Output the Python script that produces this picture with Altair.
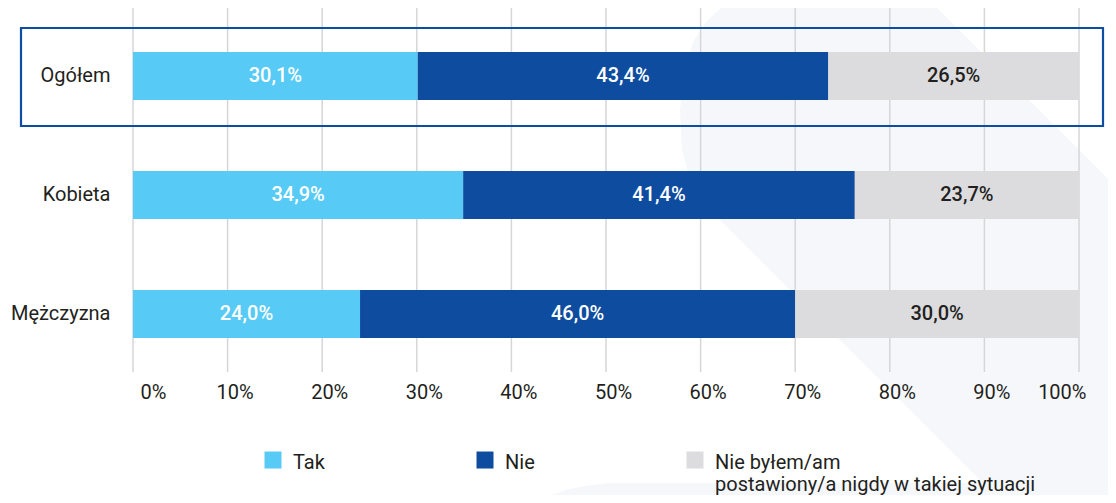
import altair as alt
import pandas as pd

categories = ["Ogółem", "Kobieta", "Mężczyzna"]
series = ["Tak", "Nie", "Nie byłem/am postawiony/a nigdy w takiej sytuacji"]
tak = [30.1, 34.9, 24.0]
nie = [43.4, 41.4, 46.0]
nigdy = [26.5, 23.7, 30.0]
tick_values = [0, 10, 20, 30, 40, 50, 60, 70, 80, 90, 100]

colors = ["#57cbf5", "#0e4c9f", "#dcdcde"]
text_colors = ["#ffffff", "#ffffff", "#231f20"]

rows = []
for i, c in enumerate(categories):
    for j, (s, vals) in enumerate(zip(series, [tak, nie, nigdy])):
        rows.append({"cat": c, "series": s, "v": vals[i], "o": j, "tc": text_colors[j]})
df = pd.DataFrame(rows)

# faint decorative background shapes (pixel outlines relative to plot origin)
band_y = [-8, 12, 32, 62, 102, 142, 172, 179, 197, 212, 352, 495]
band_left = [597, 575, 561, 551, 547, 549, 557, 560, 572, 587, 727, 870]
band_right = [796, 816, 836, 866, 906, 946, 976, 983, 991, 991, 991, 991]
blob_y = [475, 478, 482, 487, 495]
blob_left = [477, 452, 432, 419, 407]
blob_right = [991, 991, 991, 991, 991]
bg = pd.DataFrame({
    "py": band_y + blob_y,
    "lx": band_left + blob_left,
    "rx": band_right + blob_right,
    "shape": ["band"] * len(band_y) + ["blob"] * len(blob_y),
})

W, H = 946, 364
FONT = "Roboto"
FS = 20

background = alt.Chart(bg).mark_area(orient="horizontal", color="#f5f7fb", clip=False).encode(
    y=alt.Y("py:Q", axis=None, scale=alt.Scale(domain=[0, H], reverse=True, nice=False, zero=False)),
    x=alt.X("lx:Q", axis=None, stack=None, scale=alt.Scale(domain=[0, W], nice=False, zero=False)),
    x2="rx:Q",
    detail="shape:N",
)

xscale = alt.Scale(domain=[0, 100], nice=False)
yscale = alt.Scale(domain=categories, paddingInner=0.5966, paddingOuter=0.3277, align=0.564)
xaxis = alt.Axis(values=tick_values, grid=False, ticks=False, domain=False, zindex=1,
                 labelExpr="datum.value + '%'", labelPadding=10, labelFontSize=FS,
                 labelOffset=7, labelFont=FONT, labelColor="#231f20")

grid = alt.Chart(pd.DataFrame({"t": tick_values})).mark_rule(color="#d6d6d8", strokeWidth=1.5).encode(
    x=alt.X("t:Q", scale=xscale, axis=xaxis, title=None),
    y=alt.value(0),
    y2=alt.value(H),
)

LEGEND_LONG = "Nie byłem/am postawiony/a nigdy w takiej sytuacji"

bars = alt.Chart(df).mark_bar().encode(
    y=alt.Y("cat:N", scale=yscale, sort=categories, title=None,
            axis=alt.Axis(ticks=False, domain=False, labelPadding=23, labelFontSize=FS,
                          labelFont=FONT, labelColor="#231f20")),
    x=alt.X("v:Q", stack="zero", scale=xscale, title=None, axis=xaxis),
    color=alt.Color("series:N", scale=alt.Scale(domain=series, range=colors),
                    legend=alt.Legend(title=None, orient="none", legendX=130, legendY=445,
                                      direction="horizontal", columns=3, columnPadding=150,
                                      symbolType="M-1,-1.35H1V0.65H-1Z", symbolSize=289,
                                      symbolStrokeWidth=0,
                                      labelFont=FONT, labelFontSize=FS, labelColor="#231f20",
                                      labelOffset=10, labelLimit=500, padding=0, zindex=1,
                                      labelExpr="datum.label == '" + LEGEND_LONG + "' ? ['Nie byłem/am', 'postawiony/a nigdy w takiej sytuacji'] : [datum.label, '']")),
    order=alt.Order("o:Q"),
)

labels = alt.Chart(df).transform_stack(
    stack="v", groupby=["cat"], as_=["v0", "v1"], sort=[alt.SortField("o")]
).transform_calculate(
    mid="(datum.v0 + datum.v1) / 2",
    lbl="replace(format(datum.v, '.1f'), '.', ',') + '%'",
).mark_text(font=FONT, fontSize=FS, fontWeight=500).encode(
    x=alt.X("mid:Q", scale=xscale),
    y=alt.Y("cat:N", scale=yscale, sort=categories),
    text="lbl:N",
    color=alt.Color("tc:N", scale=None),
)

outline = alt.Chart(pd.DataFrame({"a": [0]})).mark_rect(
    filled=False, stroke="#0d4ea2", strokeWidth=2.2, clip=False
).encode(
    x=alt.value(-112), x2=alt.value(970), y=alt.value(20), y2=alt.value(118)
)

main = alt.layer(grid, bars, labels, outline)

chart = alt.layer(background, main).resolve_scale(
    x="independent", y="independent"
).properties(
    width=W, height=H,
    autosize=alt.AutoSizeParams(type="none"),
    padding={"left": 125, "top": 0, "right": 29, "bottom": 123},
).configure_view(stroke=None)

chart.save("out.html", embed_options={"renderer": "svg", "actions": False})
